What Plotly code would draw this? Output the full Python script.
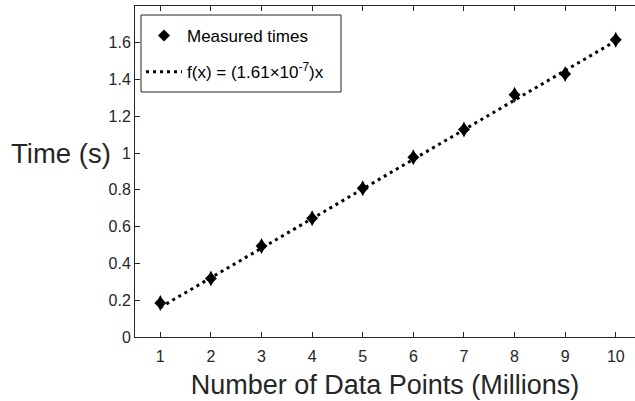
import plotly.graph_objects as go

# Problem size (millions of points) and measured run times (seconds)
n_millions = [1, 2, 3, 4, 5, 6, 7, 8, 9, 10]
measured_s = [0.185, 0.318, 0.495, 0.646, 0.809, 0.978, 1.128, 1.317, 1.430, 1.616]

# Least-squares slope through the origin (seconds per point)
fit_slope = 1.61e-7
fit_s = [fit_slope * n * 1e6 for n in n_millions]

x_ticks = [1, 2, 3, 4, 5, 6, 7, 8, 9, 10]
y_ticks = [0, 0.2, 0.4, 0.6, 0.8, 1, 1.2, 1.4, 1.6]
y_tick_text = ["0", "0.2", "0.4", "0.6", "0.8", "1", "1.2", "1.4", "1.6"]

AX = "#262626"
FONT = "Liberation Sans, Arial, Helvetica, sans-serif"

fig = go.Figure()
# Fit line drawn first so the markers sit on top of it
fig.add_trace(go.Scatter(
    x=n_millions, y=fit_s, mode="lines",
    name="f(x) = (1.61\u00d710<sup>-7</sup>)x", legendgroup="fit", legendrank=2,
    line=dict(color="black", width=3, dash="3px,4px"),
))
# Diamond markers: a square diamond merged with a tall one gives a
# slightly narrower-than-tall diamond shape
fig.add_trace(go.Scatter(
    x=n_millions, y=measured_s, mode="markers", name="Measured times",
    legendgroup="meas", legendrank=1,
    marker=dict(symbol="diamond", size=9.2, color="black", line=dict(width=0)),
))
fig.add_trace(go.Scatter(
    x=n_millions, y=measured_s, mode="markers", showlegend=False,
    legendgroup="meas", hoverinfo="skip",
    marker=dict(symbol="diamond-tall", size=11.4, color="black", line=dict(width=0)),
))

fig.update_layout(
    width=635, height=401,
    margin=dict(l=135, r=0, t=6, b=64),
    paper_bgcolor="white", plot_bgcolor="white",
    font=dict(family=FONT, color=AX),
    showlegend=True,
    legend=dict(
        x=0.012, y=0.9637, xanchor="left", yanchor="top",
        borderwidth=0, bgcolor="rgba(0,0,0,0)",
        font=dict(size=17, color="black", family=FONT),
        tracegroupgap=11, itemwidth=36, traceorder="grouped",
    ),
    shapes=[dict(
        type="rect", xref="paper", yref="paper",
        x0=0.012, x1=0.412, y0=0.7402, y1=0.9728,
        line=dict(color=AX, width=1), fillcolor="white", layer="below",
    )],
    xaxis=dict(
        range=[0.5, 10.38], tickvals=x_ticks,
        ticks="inside", ticklen=5, tickcolor=AX, tickwidth=1,
        showline=True, linecolor=AX, linewidth=1, mirror="ticks",
        showgrid=False, zeroline=False, ticklabelstandoff=5,
        tickfont=dict(size=16, color=AX),
        title=dict(text="Number of Data Points (Millions)",
                   font=dict(size=27, color=AX), standoff=10),
    ),
    yaxis=dict(
        range=[0, 1.8], tickvals=y_ticks, ticktext=y_tick_text,
        ticks="inside", ticklen=5, tickcolor=AX, tickwidth=1,
        showline=True, linecolor=AX, linewidth=1, mirror=False,
        showgrid=False, zeroline=False,
        tickfont=dict(size=16, color=AX),
    ),
    annotations=[dict(
        text="Time (s)", xref="paper", yref="y", x=-0.045, y=1.0,
        xanchor="right", yanchor="middle", showarrow=False,
        font=dict(size=27.5, color=AX, family=FONT),
    )],
)

fig.write_html("out.html")
